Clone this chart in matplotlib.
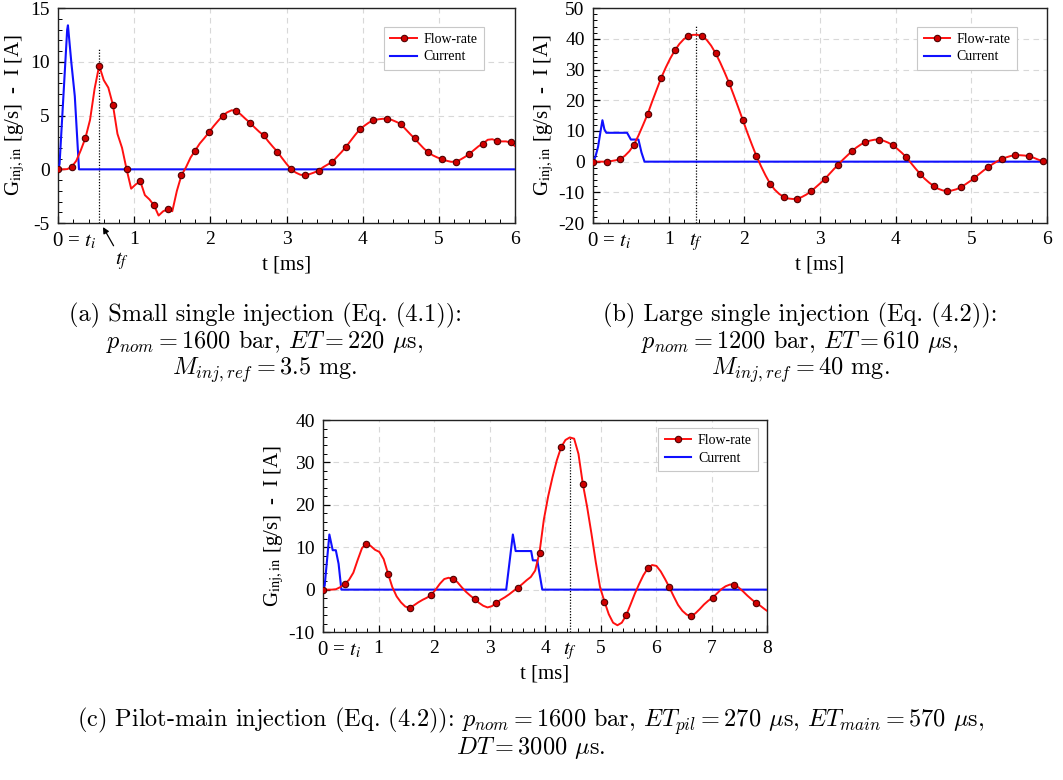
import numpy as np
import matplotlib
matplotlib.use("Agg")
import matplotlib.pyplot as plt
from matplotlib.ticker import AutoMinorLocator, MultipleLocator

plt.rcParams['font.family'] = ['Liberation Serif', 'DejaVu Serif']
plt.rcParams['mathtext.fontset'] = 'stix'
plt.rcParams['axes.unicode_minus'] = False

# ---------------- data ----------------
# (a) small single injection, flow-rate sampled every 0.06 ms
t_a = np.arange(101) * 0.06
flow_a = [0.0, 0.0, 0.02, 0.23, 0.8, 1.8, 2.93, 4.6, 7.5, 9.65,
          8.3, 7.6, 6.01, 3.3, 2.0, 0.0, -1.8, -1.4, -1.11, -2.4,
          -2.8, -3.35, -4.3, -3.9, -3.72, -3.9, -2.0, -0.55, 0.2, 1.1,
          1.75, 2.4, 2.9, 3.43, 4.0, 4.5, 4.98, 5.3, 5.5, 5.42,
          5.1, 4.7, 4.33, 3.9, 3.5, 3.15, 2.6, 2.1, 1.63, 1.05,
          0.5, 0.0, -0.3, -0.5, -0.55, -0.45, -0.3, -0.12, 0.2, 0.45,
          0.69, 1.15, 1.6, 2.09, 2.65, 3.2, 3.71, 4.05, 4.35, 4.55,
          4.65, 4.7, 4.7, 4.6, 4.42, 4.21, 3.75, 3.3, 2.87, 2.4,
          1.95, 1.59, 1.3, 1.1, 0.94, 0.8, 0.7, 0.72, 0.9, 1.15,
          1.44, 1.8, 2.15, 2.4, 2.75, 2.8, 2.65, 2.6, 2.6, 2.5, 2.15]
cur_t_a = [0, 0.02, 0.12, 0.13, 0.175, 0.22, 0.275, 6.0]
cur_a = [0, 0.5, 13.0, 13.4, 9.9, 6.8, 0, 0]
tf_a, tf_top_a = 0.54, 11.2

# (b) large single injection, flow-rate sampled every 0.06 ms
t_b = np.arange(101) * 0.06
flow_b = [0, 0, 0, 0.0, 0.2, 0.45, 0.9, 1.9, 3.4, 5.5,
          8.5, 11.9, 15.4, 19.5, 23.4, 27.25, 30.6, 33.6, 36.2, 38.3,
          39.9, 40.86, 41.3, 41.3, 40.86, 39.7, 37.8, 35.3, 32.3, 29.0,
          25.5, 21.6, 17.6, 13.5, 9.4, 5.5, 1.77, -1.5, -4.5, -7.15,
          -9.1, -10.5, -11.5, -12.0, -12.15, -12.05, -11.5, -10.7, -9.66, -8.4,
          -7.1, -5.74, -4.1, -2.5, -0.95, 0.6, 2.0, 3.4, 4.6, 5.6,
          6.35, 6.85, 7.15, 7.2, 6.8, 6.2, 5.37, 4.2, 2.9, 1.45,
          -0.4, -2.2, -3.9, -5.5, -6.8, -7.9, -8.8, -9.35, -9.55, -9.4,
          -9.0, -8.35, -7.4, -6.4, -5.3, -4.1, -2.9, -1.8, -0.8, 0.1,
          0.8, 1.4, 1.85, 2.1, 2.1, 2.0, 1.77, 1.3, 0.7, 0.14, -0.3]
cur_t_b = [0, 0.03, 0.066, 0.1, 0.124, 0.15, 0.176, 0.45, 0.5, 0.6, 0.64, 0.68, 6.0]
cur_b = [0, 1.5, 4.8, 10.0, 13.5, 10.5, 9.4, 9.4, 7.2, 7.2, 3.0, 0, 0]
tf_b, tf_top_b = 1.36, 44.5

# (c) pilot-main injection, flow-rate sampled every 0.078 ms
t_c = np.r_[np.arange(103) * 0.078, 8.0]
flow_c = [0, 0, 0, 0.1, 0.6, 1.34, 2.3, 4.0, 7.0, 9.8,
          10.87, 10.3, 9.4, 8.9, 7.2, 3.8, 0.6, -1.6, -3.0, -4.0,
          -4.3, -3.7, -3.0, -2.4, -1.9, -1.2, 0.0, 1.4, 2.5, 2.8,
          2.5, 1.8, 0.6, -0.5, -1.4, -2.2, -3.1, -3.8, -4.2, -3.9,
          -3.15, -2.4, -1.8, -1.1, -0.3, 0.47, 1.3, 2.2, 3.0, 4.5,
          8.74, 16.5, 22.0, 26.5, 30.5, 33.6, 35.3, 35.9, 35.6, 32.0,
          25.0, 19.5, 13.2, 6.5, 0.5, -2.8, -5.8, -7.8, -8.4, -7.8,
          -6.1, -3.6, -1.0, 1.3, 3.4, 5.0, 5.8, 5.6, 4.3, 2.5,
          0.55, -1.6, -3.6, -5.0, -5.9, -6.2, -5.6, -4.6, -3.5, -2.6,
          -1.9, -0.9, 0.1, 0.8, 1.2, 1.2, 0.5, -0.4, -1.4, -2.3,
          -3.15, -3.8, -4.6, -5.0]
cur_t_c = [0, 0.03, 0.114, 0.174, 0.23, 0.28, 0.33, 3.30, 3.42, 3.47, 3.75, 3.78, 3.86, 3.95, 8.0]
cur_c = [0, 1.0, 13.0, 9.3, 9.3, 6.1, 0, 0, 13.0, 9.1, 9.1, 6.9, 6.9, 0, 0]
tf_c, tf_top_c = 4.45, 35.9

caption_a = ["(a) Small single injection (Eq. (4.1)):",
             r"$p_{nom} = 1600$ bar, $ET = 220$ $\mu$s,",
             r"$M_{inj,ref} = 3.5$ mg."]
caption_b = ["(b) Large single injection (Eq. (4.2)):",
             r"$p_{nom} = 1200$ bar, $ET = 610$ $\mu$s,",
             r"$M_{inj,ref} = 40$ mg."]
caption_c = [r"(c) Pilot-main injection (Eq. (4.2)): $p_{nom} = 1600$ bar, "
             r"$ET_{pil} = 270$ $\mu$s, $ET_{main} = 570$ $\mu$s,",
             r"$DT = 3000$ $\mu$s."]

# ---------------- drawing ----------------
fig = plt.figure(figsize=(10.63, 7.8), dpi=100)


def panel(rect, t, flow, ct, cur, xmax, ylim, ystep, tf, tf_top, mark_every,
          leg_anchor, tf_arrow=False):
    ax = fig.add_axes(rect)
    l_cur, = ax.plot(ct, cur, color='#1010ff', lw=1.5, label='Current', zorder=3)
    l_flow, = ax.plot(t, flow, color='#ff1010', lw=1.4, marker='o', markevery=mark_every,
                      ms=4.6, mfc='#d00000', mec='#500000', mew=0.8, label='Flow-rate',
                      zorder=4)
    ax.plot([tf, tf], [ylim[0], tf_top], color='k', ls=(0, (1, 1.3)), lw=0.9, zorder=2)
    ax.set_xlim(0, xmax)
    ax.set_ylim(*ylim)
    ax.xaxis.set_major_locator(MultipleLocator(1))
    ax.yaxis.set_major_locator(MultipleLocator(ystep))
    ax.xaxis.set_minor_locator(AutoMinorLocator(5))
    ax.yaxis.set_minor_locator(AutoMinorLocator(5))
    ax.tick_params(which='both', direction='in', top=False, right=False,
                   labelsize=14, pad=6)
    ax.tick_params(which='major', length=5, width=0.9)
    ax.tick_params(which='minor', length=3, width=0.7)
    ax.grid(True, which='major', color='#d8d8d8', ls=(0, (5, 4)), lw=0.8)
    ax.set_axisbelow(True)
    for s in ax.spines.values():
        s.set_linewidth(1.0)
        s.set_color('#222222')
    ticks = np.arange(0, xmax + 1)
    ax.set_xticks(ticks)
    ax.set_xticklabels([''] + [str(v) for v in ticks[1:]])
    ax.annotate('0 = $t_i$', xy=(0, 0), xycoords=('data', 'axes fraction'),
                xytext=(-6, -8), textcoords='offset pixels', ha='left', va='top',
                fontsize=15)
    if tf_arrow:
        ax.annotate('$t_f$', xy=(tf + 0.05, -5.37), xytext=(tf + 0.3, -8.5),
                    ha='center', va='center', fontsize=15, annotation_clip=False,
                    arrowprops=dict(arrowstyle='-|>', color='k', lw=0.9,
                                    mutation_scale=9, shrinkA=1, shrinkB=0))
    else:
        ax.annotate('$t_f$', xy=(tf, 0), xycoords=('data', 'axes fraction'),
                    xytext=(0, -8), textcoords='offset pixels', ha='center',
                    va='top', fontsize=15)
    ax.set_xlabel('t [ms]', fontsize=15, labelpad=5)
    ax.set_ylabel(r'G$_{\rm inj,in}$ [g/s]  -  I [A]', fontsize=15, labelpad=2)
    leg = ax.legend([l_flow, l_cur], ['Flow-rate', 'Current'], loc='upper right',
                    bbox_to_anchor=leg_anchor, borderaxespad=0, fontsize=10,
                    fancybox=False, framealpha=1, edgecolor='#c8c8c8',
                    handlelength=1.9, handletextpad=0.5, borderpad=0.45,
                    labelspacing=0.3)
    leg.get_frame().set_linewidth(0.8)
    return ax


panel([0.0546, 0.714, 0.430, 0.2756], t_a, flow_a, cur_t_a, cur_a, 6, (-5, 15), 5,
      tf_a, tf_top_a, 3, (0.932, 0.912), tf_arrow=True)
panel([0.5579, 0.714, 0.4271, 0.2756], t_b, flow_b, cur_t_b, cur_b, 6, (-20, 50), 10,
      tf_b, tf_top_b, 3, (0.934, 0.912))
panel([0.3039, 0.1897, 0.4177, 0.2718], t_c, flow_c, cur_t_c, cur_c, 8, (-10, 40), 10,
      tf_c, tf_top_c, 5, (0.98, 0.962))

cap_kw = dict(ha='center', va='baseline', fontsize=17.5,
              family=['cmr10', 'DejaVu Serif'], math_fontfamily='cm')
for i, line in enumerate(caption_a):
    fig.text(265 / 1063, 1 - (321 + 27 * i) / 780, line, **cap_kw)
for i, line in enumerate(caption_b):
    fig.text(800 / 1063, 1 - (321 + 27 * i) / 780, line, **cap_kw)
for i, line in enumerate(caption_c):
    fig.text(531 / 1063, 1 - (727 + 27 * i) / 780, line, **cap_kw)

fig.savefig('out.png', dpi=100)
